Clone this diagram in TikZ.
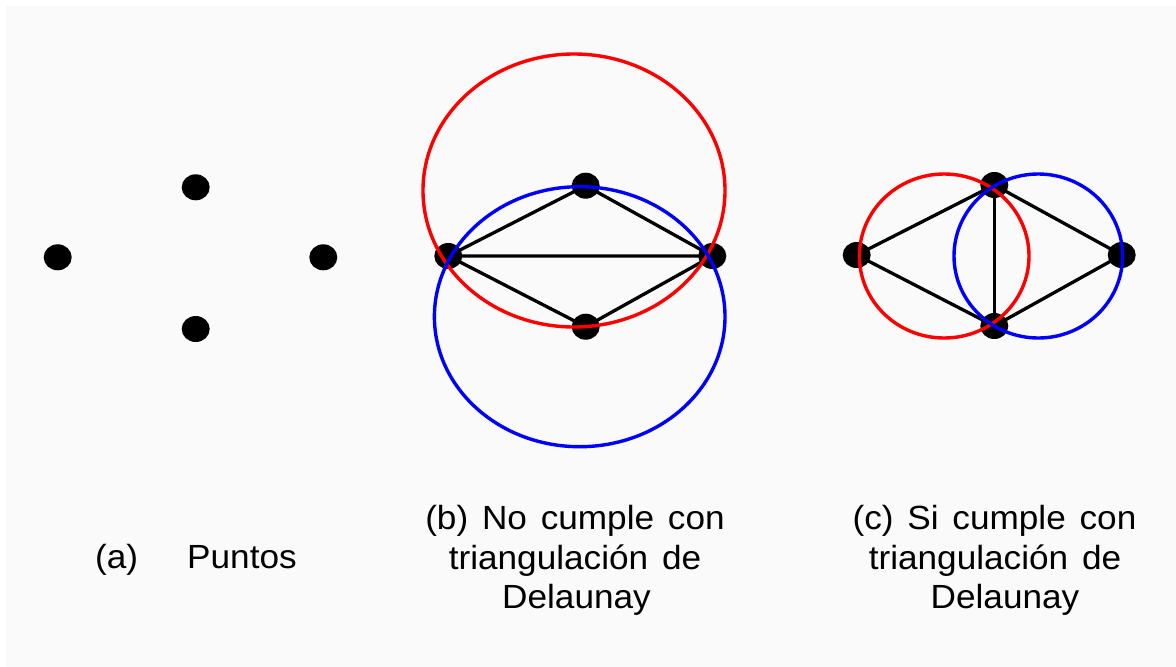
\documentclass[tikz,border=0pt]{standalone}
\usepackage{fontspec}
\setmainfont{Liberation Sans}[FakeStretch=1.05]
\definecolor{bgfill}{RGB}{250,250,250}
\definecolor{cred}{RGB}{255,0,0}
\definecolor{cblue}{RGB}{0,0,255}
\usetikzlibrary{shapes.geometric}
\newcommand{\mylblfont}{\fontsize{33.5}{40}\selectfont\spaceskip=13.8pt plus 0pt minus 0pt\relax}
\tikzset{
  pt/.style={ellipse, fill=black, minimum width=28pt, minimum height=26pt, inner sep=0pt},
  edge/.style={draw=black, line width=3.3pt},
  redc/.style={draw=cred, line width=3.4pt},
  bluec/.style={draw=cblue, line width=3.4pt},
  lbl/.style={anchor=base, inner sep=0pt, font=\mylblfont}
}
\begin{document}
\begin{tikzpicture}[x=1pt,y=-1pt]
\useasboundingbox (0,0) rectangle (1176,667);
\fill[white] (0,0) rectangle (1176,667);
\fill[bgfill] (6,6) rectangle (1176,667);
% (a)
\node[pt] (a1) at (57.7,257.3) {};
\node[pt] (a2) at (195.7,187.3) {};
\node[pt] (a3) at (323.3,257.3) {};
\node[pt] (a4) at (195.7,329) {};
% (b)
\node[pt] (b1) at (448.3,256) {};
\node[pt] (b2) at (585.7,185.7) {};
\node[pt] (b3) at (712.3,256) {};
\node[pt] (b4) at (585.7,326.7) {};
\draw[edge] (b1.center) -- (b2.center) -- (b3.center) -- (b4.center) -- (b1.center) -- (b3.center);
\draw[redc] (574,190.5) ellipse [x radius=151, y radius=136.5];
\draw[bluec] (579.7,316.7) ellipse [x radius=145.3, y radius=130];
% (c)
\node[pt] (c1) at (856.7,255) {};
\node[pt] (c2) at (994.3,185) {};
\node[pt] (c3) at (1121.7,255) {};
\node[pt] (c4) at (994.3,326) {};
\draw[edge] (c1.center) -- (c2.center) -- (c3.center) -- (c4.center) -- (c1.center);
\draw[edge] (c2.center) -- (c4.center);
\draw[redc] (944.2,256) ellipse [x radius=84.8, y radius=82];
\draw[bluec] (1038.3,256) ellipse [x radius=84.3, y radius=82];
% labels
\node[lbl, anchor=base west] (la1) at (95,568) {(a)};
\node[lbl, anchor=base west] (la2) at (187,568) {Puntos};
\node[lbl] (lb1) at (575,529.3) {(b) No cumple con};
\node[lbl] (lb2) at (575,569.5) {triangulación de};
\node[lbl] (lb3) at (576.5,608.3) {Delaunay};
\node[lbl] (lc1) at (994.5,529.3) {(c) Si cumple con};
\node[lbl] (lc2) at (995,569.5) {triangulación de};
\node[lbl] (lc3) at (1005,608.3) {Delaunay};
\end{tikzpicture}
\end{document}
